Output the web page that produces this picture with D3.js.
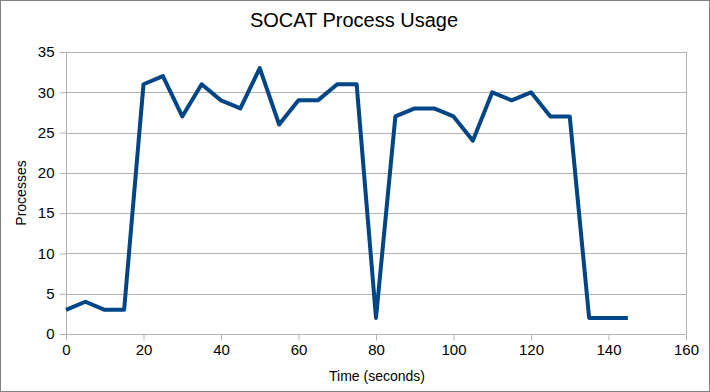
<!DOCTYPE html>
<html><head><meta charset="utf-8">
<script src="https://cdn.jsdelivr.net/npm/d3@7"></script>
<style>body{margin:0;background:#fff}svg{display:block}text{font-family:"Liberation Sans",Arial,sans-serif}</style>
</head><body>
<script>
const times = [0,5,10,15,20,25,30,35,40,45,50,55,60,65,70,75,80,85,90,95,100,105,110,115,120,125,130,135,140,145];
const processes = [3,4,3,3,31,32,27,31,29,28,33,26,29,29,31,31,2,27,28,28,27,24,30,29,30,27,27,2,2,2];
const xTicks = [0,20,40,60,80,100,120,140,160];
const yTicks = [0,5,10,15,20,25,30,35];
const title = "SOCAT Process Usage";
const xLabel = "Time (seconds)";
const yLabel = "Processes";

const W=710,H=392;
const svg=d3.select("body").append("svg").attr("width",W).attr("height",H);
svg.append("rect").attr("x",0.5).attr("y",0.5).attr("width",W-1).attr("height",H-1).attr("fill","#fff").attr("stroke","#808080");
const L=66,R=686,T=52,B=334;
const x=d3.scaleLinear().domain([0,160]).range([L,R]);
const y=d3.scaleLinear().domain([0,35]).range([B,T]);

svg.append("g").selectAll("line").data(yTicks).join("line")
 .attr("x1",L).attr("x2",R).attr("y1",d=>Math.round(y(d))+0.5).attr("y2",d=>Math.round(y(d))+0.5)
 .attr("stroke","#b3b3b3");
svg.append("line").attr("x1",R+0.5).attr("x2",R+0.5).attr("y1",T).attr("y2",B).attr("stroke","#b3b3b3");

const xAxis=svg.append("g").attr("transform",`translate(0,${B+0.5})`)
 .call(d3.axisBottom(x).tickValues(xTicks).tickSize(6).tickPadding(4));
const yAxis=svg.append("g").attr("transform",`translate(${L+0.5},0)`)
 .call(d3.axisLeft(y).tickValues(yTicks).tickSize(7).tickPadding(5));
[xAxis,yAxis].forEach(g=>{
 g.select(".domain").attr("stroke","#b3b3b3");
 g.selectAll(".tick line").attr("stroke","#b3b3b3");
 g.selectAll(".tick text").attr("fill","#000").style("font-size","15px").style("font-family",'"Liberation Sans",Arial,sans-serif');
});
xAxis.select(".domain").attr("d",`M${L},0H${R}`);
yAxis.select(".domain").attr("d",`M0,${T}V${B}`);

svg.append("path").datum(times.map((t,i)=>[t,processes[i]]))
 .attr("d",d3.line().x(d=>x(d[0])).y(d=>y(d[1])))
 .attr("fill","none").attr("stroke","#004586").attr("stroke-width",4).attr("stroke-linejoin","round");

svg.append("text").attr("x",354).attr("y",27).attr("text-anchor","middle").style("font-size","20px").text(title);
svg.append("text").attr("x",377).attr("y",381).attr("text-anchor","middle").style("font-size","14px").text(xLabel);
svg.append("text").attr("transform",`translate(26,${(T+B)/2}) rotate(-90)`).attr("text-anchor","middle").style("font-size","14px").text(yLabel);
</script>
</body></html>
